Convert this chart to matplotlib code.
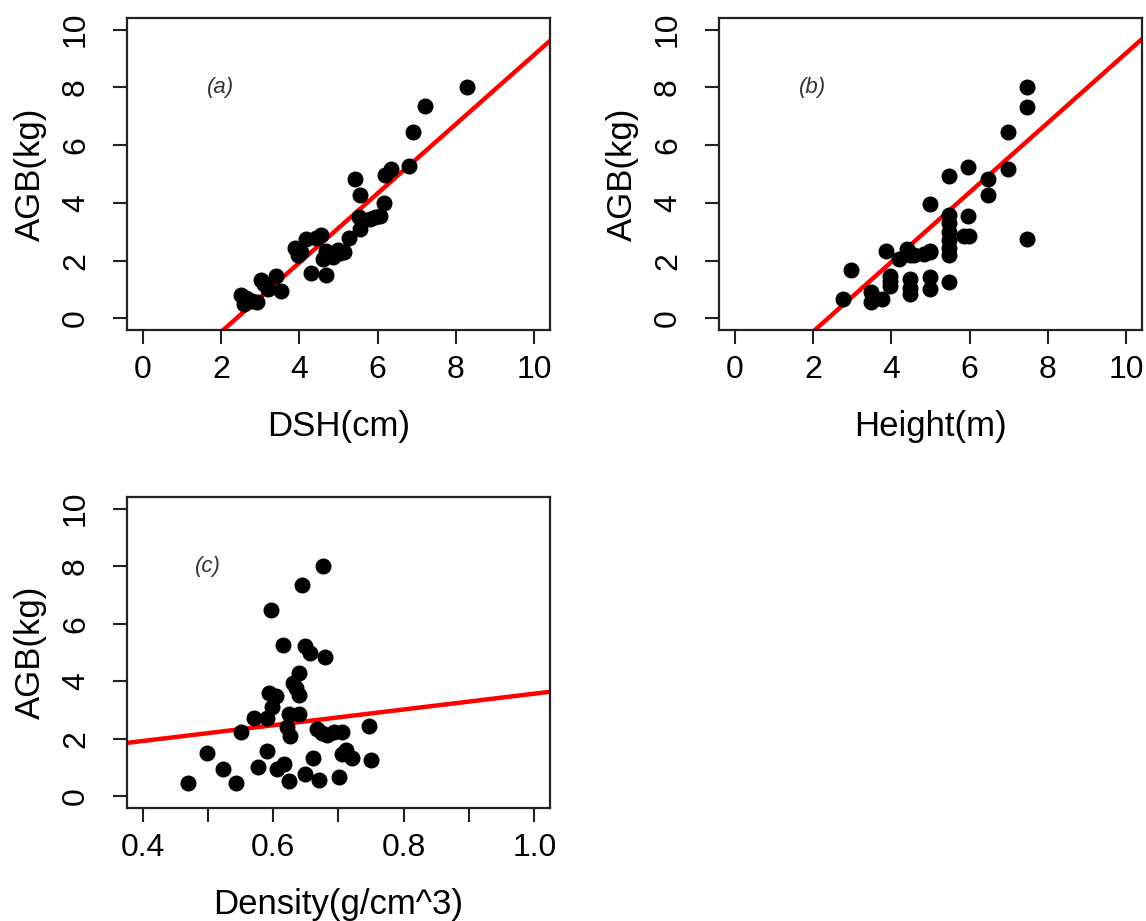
import numpy as np
import matplotlib
import matplotlib.pyplot as plt

matplotlib.use('Agg')

plt.rcParams['font.family'] = ['Liberation Sans', 'DejaVu Sans']

# Panel (a): AGB vs DSH
dsh = [8.27, 7.20, 6.90, 6.81, 6.33, 6.19, 5.42, 5.56, 6.15, 5.93, 5.81, 6.06,
       5.52, 5.55, 5.27, 4.56, 4.43, 4.16, 3.88, 3.96, 4.69, 4.86, 4.99, 5.15,
       4.82, 4.31, 4.67, 3.40, 3.53, 3.02, 3.19, 2.93, 2.50, 2.59, 2.80, 2.65,
       3.10, 4.05, 4.60, 5.05]
agb_a = [8.00, 7.34, 6.47, 5.28, 5.19, 4.96, 4.82, 4.26, 4.00, 3.51, 3.45, 3.53,
         3.51, 3.10, 2.79, 2.90, 2.79, 2.76, 2.43, 2.18, 2.35, 2.12, 2.38, 2.29,
         2.24, 1.56, 1.52, 1.48, 0.96, 1.33, 1.02, 0.56, 0.82, 0.50, 0.61, 0.70,
         1.20, 2.30, 2.05, 2.25]

# Panel (b): AGB vs Height
height = [7.47, 7.47, 6.97, 5.97, 6.99, 5.48, 6.48, 6.48, 4.98, 5.97, 5.48, 5.48,
          5.48, 5.48, 5.48, 5.48, 5.86, 5.99, 7.47, 5.48, 4.98, 4.84, 4.58, 4.41,
          4.20, 3.87, 4.98, 4.98, 4.48, 4.48, 4.48, 3.97, 3.97, 3.77, 3.47, 3.47,
          2.96, 2.77, 3.97, 4.98, 4.48]
agb_b = [8.00, 7.33, 6.47, 5.25, 5.17, 4.94, 4.81, 4.26, 3.97, 3.53, 3.57, 3.30,
         3.00, 2.70, 2.45, 2.20, 2.87, 2.84, 2.76, 1.27, 2.33, 2.24, 2.18, 2.41,
         2.06, 2.33, 1.43, 1.02, 1.37, 0.85, 1.05, 1.48, 1.14, 0.67, 0.90, 0.56,
         1.66, 0.67, 1.30, 2.30, 2.20]

# Panel (c): AGB vs Density
density = [0.677, 0.644, 0.596, 0.615, 0.649, 0.656, 0.680, 0.639, 0.631, 0.640,
           0.593, 0.605, 0.598, 0.590, 0.570, 0.624, 0.640, 0.621, 0.626, 0.551,
           0.747, 0.667, 0.683, 0.693, 0.706, 0.711, 0.721, 0.706, 0.750, 0.661,
           0.590, 0.498, 0.523, 0.543, 0.470, 0.576, 0.606, 0.616, 0.624, 0.649,
           0.670, 0.701, 0.635, 0.675]
agb_c = [8.02, 7.33, 6.49, 5.27, 5.21, 4.98, 4.84, 4.30, 3.95, 3.52,
         3.58, 3.49, 3.12, 2.74, 2.74, 2.88, 2.88, 2.42, 2.09, 2.24,
         2.44, 2.33, 2.13, 2.24, 2.24, 1.60, 1.35, 1.47, 1.28, 1.35,
         1.58, 1.51, 0.97, 0.47, 0.48, 1.02, 0.97, 1.14, 0.53, 0.77,
         0.58, 0.67, 3.75, 2.20]

# fitted lines (intercept, slope)
fit_a = (-2.87, 1.20)
fit_b = (-2.87, 1.206)
fit_c = (0.83, 2.74)

fig = plt.figure(figsize=(11.46, 9.21), dpi=100)

W, H = 1146, 921
boxes = {
    'a': (127, 18, 550, 330),
    'b': (719, 18, 1142, 330),
    'c': (127, 497, 550, 808),
}


def make_ax(box):
    l, t, r, b = box
    return fig.add_axes([l / W, 1 - b / H, (r - l) / W, (b - t) / H])


def style(ax, xlab, xlim, xticks, xlabels):
    ax.set_xlim(*xlim)
    ax.set_ylim(-0.4, 10.4)
    ax.set_xticks(xticks)
    ax.set_xticklabels(xlabels)
    ax.set_yticks([0, 2, 4, 6, 8, 10])
    ax.set_yticklabels(['0', '2', '4', '6', '8', '10'], rotation=90, va='center')
    for s in ax.spines.values():
        s.set_linewidth(1.6)
        s.set_color('#222222')
    ax.tick_params(length=10, width=1.5, color='#222222', labelsize=23)
    ax.tick_params(axis='x', pad=8)
    ax.tick_params(axis='y', pad=16)
    ax.set_xlabel(xlab, fontsize=25, labelpad=18)
    ax.set_ylabel('AGB(kg)', fontsize=25, labelpad=10)


panels = [
    ('a', dsh, agb_a, fit_a, 'DSH(cm)', (-0.4, 10.4), [0, 2, 4, 6, 8, 10],
     ['0', '2', '4', '6', '8', '10'], (2.0, 8.0)),
    ('b', height, agb_b, fit_b, 'Height(m)', (-0.4, 10.4), [0, 2, 4, 6, 8, 10],
     ['0', '2', '4', '6', '8', '10'], (2.0, 8.0)),
    ('c', density, agb_c, fit_c, 'Density(g/cm^3)', (0.376, 1.024),
     [0.4, 0.5, 0.6, 0.7, 0.8, 0.9, 1.0],
     ['0.4', '', '0.6', '', '0.8', '', '1.0'], (0.5, 8.0)),
]

for key, xs, ys, fit, xlab, xlim, xt, xtl, lab_pos in panels:
    ax = make_ax(boxes[key])
    ax.plot(xs, ys, 'o', color='black', markersize=10.5, zorder=3)
    ax.axline((0, fit[0]), slope=fit[1], color='#ff0000', linewidth=3.2, zorder=2)
    ax.text(lab_pos[0], lab_pos[1], '(%s)' % key, fontsize=16, style='italic',
            color='#333333', ha='center', va='center')
    style(ax, xlab, xlim, xt, xtl)

fig.savefig('out.png', dpi=100)
